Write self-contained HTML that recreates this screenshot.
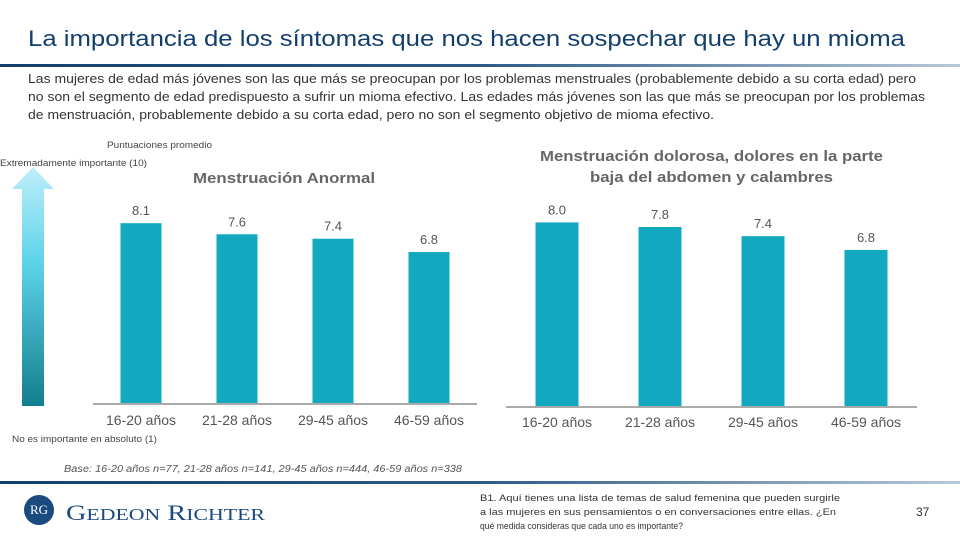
<!DOCTYPE html>
<html><head><meta charset="utf-8">
<style>
body{margin:0;width:960px;height:540px;background:#fff;font-family:"Liberation Sans",sans-serif;position:relative;overflow:hidden}
.abs{position:absolute}
</style></head><body>
<div class="abs" style="left:0;top:64px;width:960px;height:3px;background:linear-gradient(90deg,#123f6e 0%,#2d5a85 50%,#b8c8d8 100%)"></div>
<div class="abs" style="left:0;top:481px;width:960px;height:3px;background:linear-gradient(90deg,#123f6e 0%,#2d5a85 50%,#b8c8d8 100%)"></div>
<div class="abs" style="left:24px;top:495px;width:30px;height:30px;border-radius:50%;background:#1a4a7e;color:#fff;font-size:13px;line-height:30px;text-align:center;font-family:'Liberation Serif',serif">RG</div>

<svg class="abs" style="left:0;top:0" width="960" height="540">
<defs><linearGradient id="ag" x1="0" y1="0" x2="0" y2="1"><stop offset="0" stop-color="#bfeefa"/><stop offset="0.4" stop-color="#5dd3ea"/><stop offset="1" stop-color="#137e8e"/></linearGradient></defs>
<text x="28" y="46" font-size="22" fill="#123f6e" textLength="877" lengthAdjust="spacingAndGlyphs">La importancia de los síntomas que nos hacen sospechar que hay un mioma</text>
<g font-size="12.5" fill="#333">
<text x="28" y="83" textLength="888" lengthAdjust="spacingAndGlyphs">Las mujeres de edad más jóvenes son las que más se preocupan por los problemas menstruales (probablemente debido a su corta edad) pero</text>
<text x="28" y="101" textLength="897" lengthAdjust="spacingAndGlyphs">no son el segmento de edad predispuesto a sufrir un mioma efectivo. Las edades más jóvenes son las que más se preocupan por los problemas</text>
<text x="28" y="119" textLength="686" lengthAdjust="spacingAndGlyphs">de menstruación, probablemente debido a su corta edad, pero no son el segmento objetivo de mioma efectivo.</text>
</g>
<text x="107" y="148" font-size="9" fill="#444" textLength="105" lengthAdjust="spacingAndGlyphs">Puntuaciones promedio</text>
<text x="0" y="166" font-size="9" fill="#444" textLength="147" lengthAdjust="spacingAndGlyphs">Extremadamente importante (10)</text>
<text x="12" y="442" font-size="9" fill="#444" textLength="145" lengthAdjust="spacingAndGlyphs">No es importante en absoluto (1)</text>
<polygon points="33,167 54,189 44,189 44,406 22,406 22,189 12,189" fill="url(#ag)"/>
<text x="193" y="183" font-size="15" font-weight="bold" fill="#666" textLength="182" lengthAdjust="spacingAndGlyphs">Menstruación Anormal</text>
<text x="540" y="161" font-size="15" font-weight="bold" fill="#666" textLength="343" lengthAdjust="spacingAndGlyphs">Menstruación dolorosa, dolores en la parte</text>
<text x="590" y="182" font-size="15" font-weight="bold" fill="#666" textLength="243" lengthAdjust="spacingAndGlyphs">baja del abdomen y calambres</text>
<g id="left"></g><g id="right"></g>
<text x="64" y="472" font-size="10" font-style="italic" fill="#555" textLength="398" lengthAdjust="spacingAndGlyphs">Base: 16-20 años n=77, 21-28 años n=141, 29-45 años n=444, 46-59 años n=338</text>
<text x="66" y="520" font-family="Liberation Serif" font-size="22" fill="#1a4a7e" textLength="199" lengthAdjust="spacingAndGlyphs">G<tspan font-size="17">EDEON</tspan> R<tspan font-size="17">ICHTER</tspan></text>
<g font-size="9.5" fill="#333">
<text x="480" y="501" textLength="360" lengthAdjust="spacingAndGlyphs">B1. Aquí tienes una lista de temas de salud femenina que pueden surgirle</text>
<text x="480" y="515" textLength="356" lengthAdjust="spacingAndGlyphs">a las mujeres en sus pensamientos o en conversaciones entre ellas. ¿En</text>
<text x="480" y="529" textLength="203" lengthAdjust="spacingAndGlyphs">qué medida consideras que cada uno es importante?</text>
</g>
<text x="916" y="516" font-size="12" fill="#333">37</text>
</svg>

<script>
const categories = ["16-20 años","21-28 años","29-45 años","46-59 años"];
const abnormalValues = [8.1, 7.6, 7.4, 6.8];
const painfulValues = [8.0, 7.8, 7.4, 6.8];
const valueLabelsLeft = ["8.1","7.6","7.4","6.8"];
const valueLabelsRight = ["8.0","7.8","7.4","6.8"];
const NS="http://www.w3.org/2000/svg";
function mk(t,a,p){const e=document.createElementNS(NS,t);for(const k in a)e.setAttribute(k,a[k]);p.appendChild(e);return e;}
function draw(gid, vals, labels, cfg, prefix){
  const g=document.getElementById(gid);
  const y=v=>cfg.base - v*cfg.ppu;
  const ax=mk('line',{x1:cfg.x0,x2:cfg.x1,y1:cfg.base+1,y2:cfg.base+1,stroke:'#aaa','stroke-width':2},g);
  
  
  vals.forEach((v,i)=>{
    const cx=cfg.c0+i*cfg.step;
    const r=mk('rect',{x:cx-cfg.bw/2,y:y(v),width:cfg.bw,height:cfg.base-y(v),fill:'#12a9c0'},g);
    
    
    const t=mk('text',{x:cx,y:y(v)-8,'font-size':13,fill:'#555','text-anchor':'middle'},g);
    t.textContent=labels[i];
    
    
    const c=mk('text',{x:cx,y:cfg.base+cfg.ly,'font-size':14,fill:'#555','text-anchor':'middle'},g);
    c.textContent=categories[i];
    
    
  });
}
draw('left',abnormalValues,valueLabelsLeft,{base:403,ppu:22.2,x0:93,x1:477,c0:141,step:96,bw:41,ly:22},'abnormal');
draw('right',painfulValues,valueLabelsRight,{base:406,ppu:22.95,x0:506,x1:917,c0:557,step:103,bw:43,ly:21},'painful');
</script>
</body></html>
